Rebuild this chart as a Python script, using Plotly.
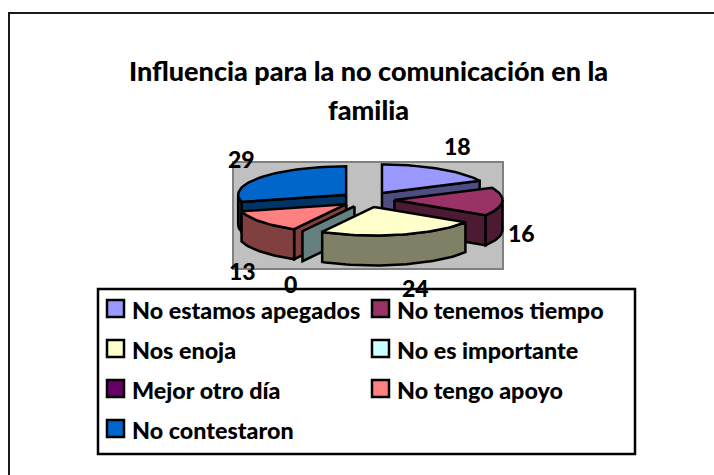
import math
import plotly.graph_objects as go

categories = ["No estamos apegados", "No tenemos tiempo", "Nos enoja", "No es importante",
              "Mejor otro día", "No tengo apoyo", "No contestaron"]
values = [18, 16, 24, 0, None, 13, 29]
top_colors = ["#9999FF", "#993366", "#FFFFCC", "#CCFFFF", "#660066", "#FF8080", "#0066CC"]
side_colors = ["#4D4D80", "#4D1A33", "#808066", "#668080", "#330033", "#804040", "#003366"]
title_lines = ["Influencia para la no comunicación en la", "familia"]
draw_order = [0, 6, 1, 5, 3, 2]

FONT = "Lato"
W, H = 714, 475
CX, CY, RX, RY, DEPTH, EX, EY = 367.5, 199.5, 108, 28.5, 30, 27, 7.7


def rim(cx, cy, t, dz=0):
    r = math.radians(t)
    return cx + RX * math.sin(r), cy - RY * math.cos(r) + dz


def arc(cx, cy, a, b, dz=0):
    n = max(2, int(abs(b - a) / 2) + 1)
    return [rim(cx, cy, a + (b - a) * i / (n - 1), dz) for i in range(n)]


fig = go.Figure()


def poly(points, fill, name):
    pts = list(points) + [points[0]]
    fig.add_trace(go.Scatter(x=[p[0] for p in pts], y=[p[1] for p in pts], mode="lines",
                             fill="toself", fillcolor=fill, name=name, showlegend=False,
                             hoverinfo="skip", line=dict(color="#000000", width=2.5)))


total = sum(v for v in values if v is not None)
spans = []
acc = 0.0
for v in values:
    d = 0 if v is None else v / total * 360
    spans.append((acc, acc + d))
    acc += d

for i in draw_order:
    a, b = spans[i]
    mid = math.radians((a + b) / 2)
    cx, cy = CX + EX * math.sin(mid), CY - EY * math.cos(mid)
    name = categories[i]
    # visible radial wall
    if b > a and math.sin(math.radians(b)) > 0.001:
        poly([(cx, cy), rim(cx, cy, b), rim(cx, cy, b, DEPTH), (cx, cy + DEPTH)], side_colors[i], name)
    if math.sin(math.radians(a)) < -0.001:
        poly([(cx, cy), rim(cx, cy, a), rim(cx, cy, a, DEPTH), (cx, cy + DEPTH)], side_colors[i], name)
    # outer wall
    lo, hi = max(a, 90), min(b, 270)
    if hi > lo:
        poly(arc(cx, cy, lo, hi) + arc(cx, cy, hi, lo, DEPTH), side_colors[i], name)
    # top face
    if b > a:
        poly([(cx, cy)] + arc(cx, cy, a, b), top_colors[i], name)

shapes = [
    dict(type="rect", layer="below", x0=233, x1=503, y0=162, y1=269,
         fillcolor="#C0C0C0", line=dict(color="#808080", width=2)),
    dict(type="rect", layer="below", x0=9, x1=W + 10, y0=13, y1=H + 10,
         fillcolor="rgba(0,0,0,0)", line=dict(color="#1a1a1a", width=2)),
    dict(type="rect", layer="above", x0=98, x1=635, y0=289, y1=454,
         fillcolor="#FFFFFF", line=dict(color="#000000", width=2.5)),
]
annotations = []


def text(x, y, s, size, anchor="center"):
    annotations.append(dict(x=x, y=y, text=s, showarrow=False, xanchor=anchor, yanchor="middle",
                            font=dict(family=FONT, size=size, color="#000000", weight=900)))


text(368, 70, title_lines[0], 27)
text(368, 109, title_lines[1], 27)

label_pos = {0: (457, 146), 1: (521, 233), 2: (415, 288), 3: (290, 284), 5: (242, 271), 6: (241, 159)}
for i, (x, y) in label_pos.items():
    text(x, y, str(values[i]), 23)

legend_slots = [(107, 308.5), (372, 308.5), (107, 348.5), (372, 348.5), (107, 388.5), (372, 388.5), (107, 428.5)]
for i, (x, y) in enumerate(legend_slots):
    shapes.append(dict(type="rect", layer="above", x0=x, x1=x + 17, y0=y - 8.5, y1=y + 8.5,
                       fillcolor=top_colors[i], line=dict(color="#000000", width=2.5)))
    text(x + 23, y + 1, categories[i], 23.3, "left")

fig.update_layout(
    width=W, height=H, margin=dict(l=0, r=0, t=0, b=0),
    paper_bgcolor="#FFFFFF", plot_bgcolor="#FFFFFF", showlegend=False,
    xaxis=dict(range=[0, W], visible=False, fixedrange=True),
    yaxis=dict(range=[H, 0], visible=False, fixedrange=True),
    shapes=shapes, annotations=annotations,
)
fig.write_html("out.html", config={"displayModeBar": False}, default_width=W, default_height=H,
               post_script="document.body.style.margin='0';document.documentElement.style.overflow='hidden';")
